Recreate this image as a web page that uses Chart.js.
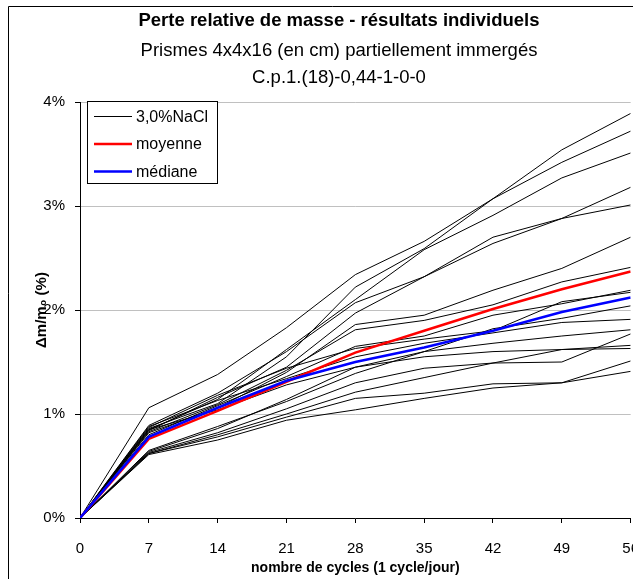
<!DOCTYPE html>
<html lang="fr">
<head>
<meta charset="utf-8">
<title>Perte relative de masse</title>
<script src="https://cdn.jsdelivr.net/npm/chart.js@4.4.1/dist/chart.umd.min.js"></script>
<style>
    html, body { margin: 0; padding: 0; background: #fff; overflow: hidden; }
    #chart { display: block; }
</style>
</head>
<body>
<canvas id="chart" width="656" height="579"></canvas>
<script>
const cycles = [0, 7, 14, 21, 28, 35, 42, 49, 56];

// perte de masse (%) de chaque prisme
const essais = [
    [0, 0.86, 1.10, 1.55, 2.22, 2.59, 3.07, 3.54, 3.89],
    [0, 1.06, 1.38, 1.83, 2.34, 2.66, 3.07, 3.42, 3.72],
    [0, 0.85, 1.14, 1.62, 2.10, 2.58, 2.91, 3.27, 3.51],
    [0, 0.84, 1.16, 1.45, 1.97, 2.32, 2.64, 2.88, 3.18],
    [0, 0.89, 1.20, 1.60, 2.07, 2.32, 2.70, 2.88, 3.01],
    [0, 0.82, 1.06, 1.40, 1.86, 1.95, 2.19, 2.40, 2.70],
    [0, 0.83, 1.09, 1.42, 1.81, 1.90, 2.05, 2.27, 2.41],
    [0, 0.80, 1.08, 1.36, 1.65, 1.75, 1.95, 2.06, 2.19],
    [0, 0.87, 1.18, 1.44, 1.63, 1.72, 1.80, 2.08, 2.17],
    [0, 0.64, 0.86, 1.14, 1.45, 1.60, 1.82, 1.92, 2.04],
    [0, 0.88, 1.13, 1.34, 1.55, 1.68, 1.78, 1.88, 1.91],
    [0, 0.65, 0.88, 1.12, 1.39, 1.60, 1.68, 1.75, 1.81],
    [0, 0.63, 0.82, 1.05, 1.30, 1.44, 1.49, 1.50, 1.77],
    [0, 0.62, 0.80, 1.00, 1.21, 1.35, 1.49, 1.62, 1.66],
    [0, 0.85, 1.04, 1.28, 1.45, 1.55, 1.60, 1.62, 1.63],
    [0, 0.62, 0.78, 0.97, 1.15, 1.20, 1.29, 1.30, 1.51],
    [0, 0.61, 0.75, 0.94, 1.04, 1.15, 1.25, 1.30, 1.41]
];
const moyenne = [0, 0.76, 1.03, 1.31, 1.59, 1.80, 2.01, 2.20, 2.37];
const mediane = [0, 0.78, 1.06, 1.32, 1.50, 1.64, 1.80, 1.98, 2.12];

const yTicks = [0, 1, 2, 3, 4];
const legendLabels = ['3,0%NaCl', 'moyenne', 'médiane'];
const legendColors = ['#000000', '#ff0000', '#0000ff'];
const titres = [
    'Perte relative de masse - résultats individuels',
    'Prismes 4x4x16 (en cm) partiellement immergés',
    'C.p.1.(18)-0,44-1-0-0'
];

const FONT = 'Arial, "Liberation Sans", sans-serif';

function pts(values) {
    return cycles.map((c, i) => ({ x: c, y: values[i] }));
}

// cadre, titres et légende façon Excel
const decor = {
    id: 'decor',
    beforeDraw(chart) {
        const ctx = chart.ctx;
        ctx.save();
        ctx.strokeStyle = '#000';
        ctx.lineWidth = 1;
        ctx.beginPath();
        ctx.moveTo(8.5, 600);
        ctx.lineTo(8.5, 6.5);
        ctx.lineTo(700, 6.5);
        ctx.stroke();
        ctx.restore();
    },
    afterDraw(chart) {
        const ctx = chart.ctx;
        ctx.save();
        ctx.fillStyle = '#000';
        ctx.textAlign = 'center';
        ctx.textBaseline = 'middle';
        ctx.font = 'bold 18.5px ' + FONT;
        ctx.fillText(titres[0], 339, 21);
        ctx.font = '18.5px ' + FONT;
        ctx.fillText(titres[1], 339, 51);
        ctx.fillText(titres[2], 339, 78);

        // légende
        const bx = 87.5, by = 101.5, bw = 130, bh = 82;
        ctx.fillStyle = '#fff';
        ctx.fillRect(bx, by, bw, bh);
        ctx.strokeStyle = '#000';
        ctx.lineWidth = 1;
        ctx.strokeRect(bx, by, bw, bh);
        ctx.textAlign = 'left';
        ctx.font = '16px ' + FONT;
        legendLabels.forEach((label, i) => {
            const y = 116.5 + i * 27.5;
            ctx.strokeStyle = legendColors[i];
            ctx.lineWidth = i === 0 ? 1 : 2.5;
            ctx.beginPath();
            ctx.moveTo(94, y);
            ctx.lineTo(132, y);
            ctx.stroke();
            ctx.fillStyle = '#000';
            ctx.fillText(label, 136, y + 1);
        });
        ctx.restore();
    }
};

const datasets = [
    { label: legendLabels[2], data: pts(mediane), borderColor: '#0000ff', borderWidth: 2.5 },
    { label: legendLabels[1], data: pts(moyenne), borderColor: '#ff0000', borderWidth: 2.5 }
];
essais.forEach(e => {
    datasets.push({ label: legendLabels[0], data: pts(e), borderColor: '#000000', borderWidth: 1 });
});

new Chart(document.getElementById('chart'), {
    type: 'line',
    data: { datasets: datasets },
    options: {
        responsive: false,
        animation: false,
        elements: { point: { radius: 0 }, line: { tension: 0 } },
        layout: { padding: { top: 102, left: 0, right: 0, bottom: 0 } },
        plugins: {
            legend: { display: false },
            title: { display: false },
            tooltip: { enabled: false }
        },
        scales: {
            x: {
                type: 'linear',
                min: 0,
                max: 56,
                afterFit: s => { s.height = 61; },
                afterBuildTicks: s => { s.ticks = cycles.map(v => ({ value: v })); },
                ticks: { color: '#000', font: { family: FONT, size: 15 }, padding: 17, maxRotation: 0 },
                grid: { drawOnChartArea: false, tickLength: 5, tickColor: '#000' },
                border: { color: '#000', width: 1 },
                title: {
                    display: true,
                    text: 'nombre de cycles (1 cycle/jour)',
                    color: '#000',
                    font: { family: FONT, size: 14, weight: 'bold' },
                    padding: { top: 0, bottom: 2 }
                }
            },
            y: {
                min: 0,
                max: 4,
                afterFit: s => { s.width = 80; },
                afterBuildTicks: s => { s.ticks = yTicks.map(v => ({ value: v })); },
                ticks: {
                    color: '#000',
                    font: { family: FONT, size: 15 },
                    padding: 10,
                    callback: v => v + '%'
                },
                grid: { color: '#c0c0c0', tickLength: 5, tickColor: '#000' },
                border: { color: '#000', width: 1 },
                title: {
                    display: true,
                    text: 'Δm/m₀ (%)',
                    color: '#000',
                    font: { family: FONT, size: 15, weight: 'bold' },
                    padding: { top: 33, bottom: 0 }
                }
            }
        }
    },
    plugins: [decor]
});
</script>
</body>
</html>
